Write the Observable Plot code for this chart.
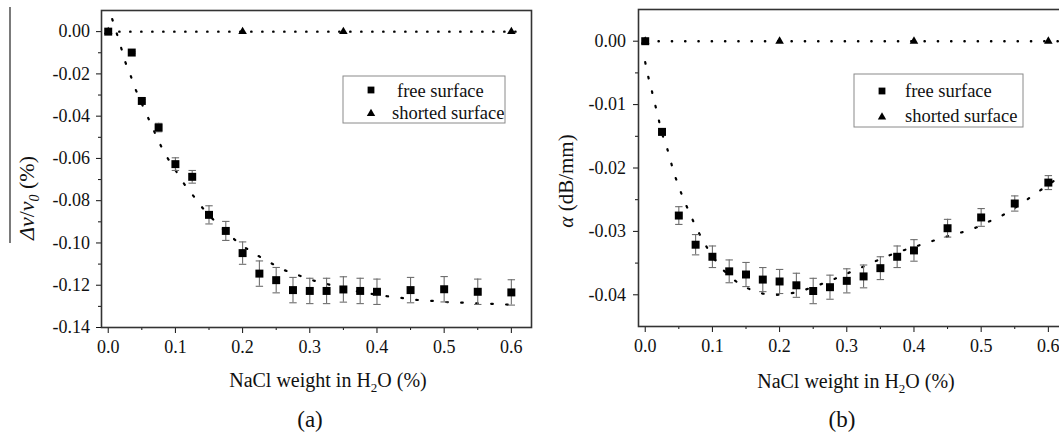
<!DOCTYPE html>
<html><head><meta charset="utf-8">
<script src="https://cdn.jsdelivr.net/npm/d3@7"></script>
<script src="https://cdn.jsdelivr.net/npm/@observablehq/plot@0.6"></script>
<style>
html,body{margin:0;padding:0;background:#fff;}
#fig{position:relative;width:1059px;height:434px;overflow:hidden;font-family:"Liberation Serif","Times New Roman",serif;color:#111;background:#fff;}
#fig svg{position:absolute;top:0;}
</style></head><body><div id="fig"></div>
<script>
// ---------- data: panel (a) velocity shift ----------
const xFreeA = [0, 0.035, 0.05, 0.075, 0.1, 0.125, 0.15, 0.175, 0.2, 0.225, 0.25, 0.275, 0.3, 0.325, 0.35, 0.375, 0.4, 0.45, 0.5, 0.55, 0.6];
const yFreeA = [0, -0.0099, -0.0328, -0.0454, -0.0627, -0.0687, -0.0867, -0.0943, -0.1048, -0.1145, -0.1176, -0.1223, -0.1227, -0.1227, -0.1220, -0.1227, -0.1231, -0.1223, -0.1219, -0.1231, -0.1234];
const eFreeA = [0, 0.0004, 0.0006, 0.002, 0.003, 0.003, 0.0043, 0.0045, 0.0053, 0.006, 0.006, 0.006, 0.006, 0.006, 0.006, 0.006, 0.006, 0.006, 0.006, 0.006, 0.006];
const xShortA = [0, 0.2, 0.35, 0.6];
const yShortA = [0, 0, 0, 0];
const xShortLineA = [0, 0.622];
const yShortLineA = [0, 0];
const xFitA = [0.006, 0.0185, 0.0249, 0.0323, 0.0397, 0.057, 0.066, 0.0754, 0.0868, 0.0977, 0.1118, 0.126, 0.142, 0.161, 0.182, 0.2004, 0.2213, 0.2411, 0.2619, 0.2817, 0.3025, 0.3228, 0.3427, 0.3625, 0.3823, 0.4022, 0.422, 0.4419, 0.4617, 0.4816, 0.5014, 0.5228, 0.5436, 0.5635, 0.5833, 0.6];
const yFitA = [0.0059, -0.0068, -0.0139, -0.0199, -0.0265, -0.0391, -0.0454, -0.0521, -0.059, -0.0643, -0.0715, -0.0774, -0.084, -0.0904, -0.0967, -0.1014, -0.1057, -0.1093, -0.1128, -0.1151, -0.1175, -0.1192, -0.1208, -0.1224, -0.1235, -0.1246, -0.1255, -0.1262, -0.127, -0.1274, -0.1279, -0.1282, -0.1285, -0.1287, -0.129, -0.1292];

// ---------- data: panel (b) attenuation ----------
const xFreeB = [0, 0.025, 0.05, 0.075, 0.1, 0.125, 0.15, 0.175, 0.2, 0.225, 0.25, 0.275, 0.3, 0.325, 0.35, 0.375, 0.4, 0.45, 0.5, 0.55, 0.6];
const yFreeB = [0, -0.0143, -0.0275, -0.0321, -0.0340, -0.0363, -0.0368, -0.0376, -0.0379, -0.0385, -0.0394, -0.0388, -0.0378, -0.0371, -0.0358, -0.0340, -0.0330, -0.0295, -0.0278, -0.0256, -0.0223];
const eFreeB = [0, 0.0005, 0.0014, 0.0016, 0.0017, 0.0018, 0.0019, 0.0019, 0.0019, 0.0019, 0.002, 0.0019, 0.0019, 0.0018, 0.0018, 0.0017, 0.0017, 0.0014, 0.0014, 0.0012, 0.0011];
const xShortB = [0, 0.2, 0.4, 0.6];
const yShortB = [0, 0, 0, 0];
const xShortLineB = [0, 0.63];
const yShortLineB = [0, 0];
const xFitB = [0, 0.0043, 0.0093, 0.0143, 0.0192, 0.0242, 0.0302, 0.0362, 0.0417, 0.0485, 0.0559, 0.0644, 0.0733, 0.0832, 0.0946, 0.1085, 0.1268, 0.1477, 0.1675, 0.1874, 0.2072, 0.2286, 0.249, 0.27, 0.2882, 0.308, 0.3279, 0.3493, 0.3701, 0.3927, 0.4106, 0.431, 0.449, 0.4695, 0.49, 0.5105, 0.531, 0.5515, 0.572, 0.5924, 0.605, 0.62];
const yFitB = [-0.0033, -0.0055, -0.0076, -0.0098, -0.0119, -0.0143, -0.0161, -0.0182, -0.0204, -0.0225, -0.0246, -0.0267, -0.0288, -0.0309, -0.033, -0.0351, -0.0372, -0.0387, -0.0396, -0.04, -0.0399, -0.0395, -0.0388, -0.038, -0.0372, -0.0363, -0.0354, -0.0344, -0.0335, -0.0327, -0.0321, -0.0314, -0.0308, -0.0302, -0.0295, -0.0285, -0.0275, -0.0262, -0.0247, -0.0232, -0.0223, -0.021];

// ---------- axes ----------
const xDomain = [-0.01, 0.63];
const xMajor = [0, 0.1, 0.2, 0.3, 0.4, 0.5, 0.6];
const xMinor = [0.05, 0.15, 0.25, 0.35, 0.45, 0.55];
const yDomainA = [-0.14, 0.01];
const yMajorA = [0, -0.02, -0.04, -0.06, -0.08, -0.10, -0.12, -0.14];
const yMinorA = [-0.01, -0.03, -0.05, -0.07, -0.09, -0.11, -0.13];
const yDomainB = [-0.045, 0.005];
const yMajorB = [0, -0.01, -0.02, -0.03, -0.04];
const yMinorB = [-0.005, -0.015, -0.025, -0.035];

// ---------- labels ----------
const legendLabels = ["free surface", "shorted surface"];
const panelTags = ["(a)", "(b)"];

const fmt2 = d => (Math.abs(d) < 1e-9 ? 0 : d).toFixed(2);
const fmt1 = d => d.toFixed(1);
const capSymbol = {draw(ctx) { ctx.moveTo(-3.7, 0); ctx.lineTo(3.7, 0); }};

function panel(o) {
  const free = o.fx.map((x, i) => ({x, y: o.fy[i], e: o.fe[i]}));
  const fit = o.fitX.map((x, i) => ({x, y: o.fitY[i]}));
  const sh = o.sx.map((x, i) => ({x, y: o.sy[i]}));
  const shLine = o.slX.map((x, i) => ({x, y: o.slY[i]}));
  const bars = free.filter(d => d.e > 0);
  const svg = Plot.plot({
    width: o.width, height: 360,
    marginLeft: o.ml, marginRight: o.mr, marginTop: o.mt, marginBottom: o.mb,
    x: {domain: xDomain},
    y: {domain: o.yDomain},
    style: {fontFamily: "'Liberation Serif','Times New Roman',serif", fontSize: "18px", color: "#111", background: "transparent", overflow: "visible"},
    marks: [
      Plot.axisX({ticks: xMajor, tickSize: 6, tickPadding: 7, tickFormat: fmt1, label: null, fontSize: 18}),
      Plot.axisX({ticks: xMinor, tickSize: 3, tickFormat: () => "", label: null}),
      Plot.axisY({ticks: o.yMajor, tickSize: 5, tickPadding: o.ypad, tickFormat: fmt2, label: null, fontSize: 18}),
      Plot.axisY({ticks: o.yMinor, tickSize: 3, tickFormat: () => "", label: null}),
      Plot.frame({stroke: "#333", strokeWidth: 1.6}),
      Plot.line(shLine, {x: "x", y: "y", stroke: "#000", strokeWidth: 2.4, strokeLinecap: "round", strokeDasharray: o.hdash}),
      Plot.line(fit, {x: "x", y: "y", curve: "catmull-rom", stroke: "#000", strokeWidth: 2.2, strokeLinecap: "round", strokeDasharray: "1.6 13.4"}),
      Plot.ruleX(bars, {x: "x", y1: d => d.y - d.e, y2: d => d.y + d.e, stroke: "#6e6e6e", strokeWidth: 1.1}),
      Plot.dot(bars, {x: "x", y: d => d.y + d.e, symbol: capSymbol, stroke: "#6e6e6e", strokeWidth: 1.1, fill: "none"}),
      Plot.dot(bars, {x: "x", y: d => d.y - d.e, symbol: capSymbol, stroke: "#6e6e6e", strokeWidth: 1.1, fill: "none"}),
      Plot.dot(free, {x: "x", y: "y", symbol: "square", r: 4.5, fill: "#000", stroke: "none"}),
      Plot.dot(sh, {x: "x", y: "y", symbol: "triangle", r: 3.2, fill: "#000", stroke: "none"})
    ]
  });
  svg.style.left = o.left + "px";
  return svg;
}

const root = document.getElementById("fig");
root.appendChild(panel({
  fx: xFreeA, fy: yFreeA, fe: eFreeA, fitX: xFitA, fitY: yFitA, sx: xShortA, sy: yShortA, slX: xShortLineA, slY: yShortLineA,
  yDomain: yDomainA, yMajor: yMajorA, yMinor: yMinorA,
  width: 541, ml: 101, mr: 10, mt: 10, mb: 33, left: 0, ypad: 6.5, hdash: "0.3 10.7"
}));
root.appendChild(panel({
  fx: xFreeB, fy: yFreeB, fe: eFreeB, fitX: xFitB, fitY: yFitB, sx: xShortB, sy: yShortB, slX: xShortLineB, slY: yShortLineB,
  yDomain: yDomainB, yMajor: yMajorB, yMinor: yMinorB,
  width: 560, ml: 118, mr: 12, mt: 9, mb: 34, left: 520, ypad: 7.5, hdash: "0.3 13"
}));

// ---------- overlay: legends and axis titles ----------
function legendSVG(bx, by, bw, bh, mx, sqY, triY, tx1, tx2, b1, b2) {
  return `<rect x="${bx}" y="${by}" width="${bw}" height="${bh}" fill="#fff" stroke="#8a8a8a" stroke-width="1"/>
  <rect x="${mx - 3.4}" y="${sqY - 3.4}" width="6.8" height="6.8" fill="#000"/>
  <path d="M${mx - 4.2},${triY + 3.4} L${mx + 4.2},${triY + 3.4} L${mx},${triY - 3.8} Z" fill="#000"/>
  <text x="${tx1}" y="${b1}" font-size="18.5">${legendLabels[0]}</text>
  <text x="${tx2}" y="${b2}" font-size="18.5">${legendLabels[1]}</text>`;
}
const ov = document.createElementNS("http://www.w3.org/2000/svg", "svg");
ov.setAttribute("width", 1059); ov.setAttribute("height", 434);
ov.style.left = "0px";
ov.style.fontFamily = "'Liberation Serif','Times New Roman',serif";
ov.setAttribute("fill", "#111");
ov.innerHTML = `
  ${legendSVG(343, 76, 162, 47, 371, 90, 112.5, 397, 392, 96.5, 119)}
  ${legendSVG(854, 74, 169, 53, 882, 91, 116, 905, 905, 97, 122)}
  <text x="328" y="386.5" text-anchor="middle" font-size="20">NaCl weight in H<tspan font-size="13" dy="5">2</tspan><tspan dy="-5">O (%)</tspan></text>
  <text x="856" y="388" text-anchor="middle" font-size="20">NaCl weight in H<tspan font-size="13" dy="5">2</tspan><tspan dy="-5">O (%)</tspan></text>
  <text x="310" y="427" text-anchor="middle" font-size="23">${panelTags[0]}</text>
  <text x="842" y="427" text-anchor="middle" font-size="23">${panelTags[1]}</text>
  <line x1="10" y1="7" x2="10" y2="243" stroke="#333" stroke-width="1.3"/>
  <text transform="translate(34,198) rotate(-90)" text-anchor="middle" font-size="22"><tspan font-style="italic">Δv</tspan>/<tspan font-style="italic">v</tspan><tspan font-style="italic" font-size="14" dy="5">0</tspan><tspan dy="-5"> (%)</tspan></text>
  <text transform="translate(573,181) rotate(-90)" text-anchor="middle" font-size="21"><tspan font-style="italic">α</tspan> (dB/mm)</text>
`;
root.appendChild(ov);
</script>
</body></html>
